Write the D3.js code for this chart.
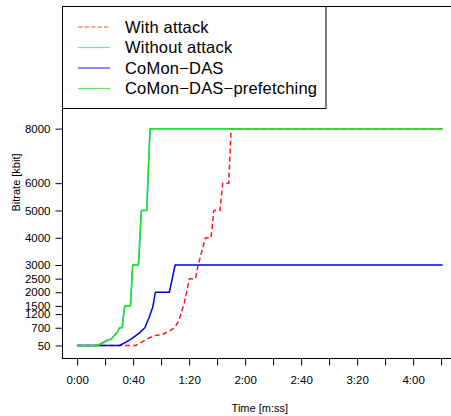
<!DOCTYPE html>
<html>
<head>
<meta charset="utf-8">
<script src="https://cdn.jsdelivr.net/npm/d3@7"></script>
<style>
  html, body { margin: 0; padding: 0; background: #fff; }
  svg { display: block; font-family: "Liberation Sans", Arial, Helvetica, sans-serif; }
</style>
</head>
<body>
<svg id="chart" width="451" height="416"></svg>
<script>
// Bitrate over time (seconds) for each configuration
const seriesNames = ["With attack", "Without attack", "CoMon\u2212DAS", "CoMon\u2212DAS\u2212prefetching"];
const seriesColors = ["#ff1a1a", "#3ccfc6", "#0000f0", "#22e022"];

const withAttackTime = [0, 42, 49, 55, 61, 66, 69.5, 72.7, 76.5, 80.2, 84.5, 86.5, 91.6, 95.7, 97.6, 102.1, 104, 108.3, 110, 261];
const withAttackRate = [50, 50, 260, 410, 450, 580, 700, 960, 1600, 2500, 2500, 3000, 4000, 4000, 5000, 5000, 6000, 6000, 8000, 8000];

const withoutAttackTime = [0, 14.7, 18.3, 21.9, 24.3, 26.6, 29, 30.2, 32.1, 34, 38.1, 39.7, 43.8, 45.9, 49.7, 52.1, 261];
const withoutAttackRate = [50, 50, 150, 250, 280, 420, 550, 700, 700, 1500, 1500, 3000, 3000, 5000, 5000, 8000, 8000];

const comonTime = [0, 30.2, 35, 39.5, 44.5, 48.4, 51.6, 54, 55.9, 65.9, 70, 261];
const comonRate = [50, 50, 170, 316, 510, 700, 1100, 1450, 2000, 2000, 3000, 3000];

const prefetchTime = [0, 14.7, 18.3, 21.9, 24.3, 26.6, 29, 30.2, 32.1, 34, 38.1, 39.7, 43.8, 45.9, 49.7, 52.1, 261];
const prefetchRate = [50, 50, 150, 250, 280, 420, 550, 700, 700, 1500, 1500, 3000, 3000, 5000, 5000, 8000, 8000];

const xLimits = [0, 261];
const yLimits = [50, 12000];
const xTickValues = [0, 20, 40, 60, 80, 100, 120, 140, 160, 180, 200, 220, 240, 260];
const xLabelValues = [0, 40, 80, 120, 160, 200, 240];
const xTickLabels = ["0:00", "0:40", "1:20", "2:00", "2:40", "3:20", "4:00"];
const yTickValues = [50, 700, 1200, 1500, 2000, 2500, 3000, 4000, 5000, 6000, 8000];

const series = [
  { name: seriesNames[0], color: seriesColors[0], dashed: true,  t: withAttackTime,    v: withAttackRate },
  { name: seriesNames[1], color: seriesColors[1], dashed: false, t: withoutAttackTime, v: withoutAttackRate },
  { name: seriesNames[2], color: seriesColors[2], dashed: false, t: comonTime,         v: comonRate },
  { name: seriesNames[3], color: seriesColors[3], dashed: false, t: prefetchTime,      v: prefetchRate }
];

// plot region, with 4% padding on both scales
const plotLeft = 62.5, plotTop = 6.5, plotBottom = 358.5;
const pad = (lim) => { const d = (lim[1] - lim[0]) * 0.04; return [lim[0] - d, lim[1] + d]; };
const xDom = pad(xLimits), yDom = pad(yLimits);
const pxPerSec = 1.4;
const plotRight = plotLeft + (xDom[1] - xDom[0]) * pxPerSec;

const x = d3.scaleLinear().domain(xDom).range([plotLeft, plotRight]);
const y = d3.scaleLinear().domain(yDom).range([plotBottom, plotTop]);

const svg = d3.select("#chart");

// lines
const line = d3.line().x(d => x(d[0])).y(d => y(d[1]));
const drawOrder = [1, 0, 2, 3];
drawOrder.forEach(i => {
  const s = series[i];
  svg.append("path")
    .attr("d", line(s.t.map((t, k) => [t, s.v[k]])))
    .attr("fill", "none")
    .attr("stroke", s.color)
    .attr("stroke-width", 1.5)
    .attr("stroke-dasharray", s.dashed ? "5,3" : null)
    .attr("stroke-linejoin", "round");
});

// x axis
const xAxis = d3.axisBottom(x)
  .tickValues(xTickValues)
  .tickSize(7)
  .tickSizeOuter(0)
  .tickFormat(v => { const k = xLabelValues.indexOf(v); return k >= 0 ? xTickLabels[k] : ""; });
const gx = svg.append("g").attr("transform", `translate(0,${plotBottom})`).call(xAxis);
gx.select(".domain").remove();
gx.selectAll(".tick line").attr("stroke", "#000");
gx.selectAll(".tick text").attr("font-size", 11.5).attr("fill", "#000").attr("dy", 0).attr("y", 25)
  .attr("font-family", "Liberation Sans, Arial, sans-serif");

// y axis
const yAxis = d3.axisLeft(y)
  .tickValues(yTickValues)
  .tickSize(7)
  .tickSizeOuter(0)
  .tickFormat(d3.format("d"));
const gy = svg.append("g").attr("transform", `translate(${plotLeft},0)`).call(yAxis);
gy.select(".domain").remove();
gy.selectAll(".tick line").attr("stroke", "#000");
gy.selectAll(".tick text").attr("font-size", 11.5).attr("fill", "#000").attr("x", -12)
  .attr("font-family", "Liberation Sans, Arial, sans-serif");

// box
svg.append("rect")
  .attr("x", plotLeft).attr("y", plotTop)
  .attr("width", plotRight - plotLeft).attr("height", plotBottom - plotTop)
  .attr("fill", "none").attr("stroke", "#000").attr("stroke-width", 1);

// axis titles
svg.append("text")
  .attr("x", (plotLeft + plotRight) / 2).attr("y", 412)
  .attr("text-anchor", "middle").attr("font-size", 11).text("Time [m:ss]");
svg.append("text")
  .attr("transform", `translate(20,${(plotTop + plotBottom) / 2}) rotate(-90)`)
  .attr("text-anchor", "middle").attr("font-size", 11).text("Bitrate [kbit]");

// legend
const lg = svg.append("g");
lg.append("rect")
  .attr("x", plotLeft).attr("y", plotTop)
  .attr("width", 263.5).attr("height", 102)
  .attr("fill", "#fff").attr("stroke", "#000").attr("stroke-width", 1);
series.forEach((s, i) => {
  const cy = 27 + i * 20.5;
  lg.append("line")
    .attr("x1", 78).attr("x2", 110).attr("y1", cy).attr("y2", cy)
    .attr("stroke", s.color).attr("stroke-width", 1.2).attr("stroke-opacity", 0.75)
    .attr("stroke-dasharray", s.dashed ? "4.5,2" : null);
  lg.append("text")
    .attr("x", 125).attr("y", cy + 5.5)
    .attr("font-size", 16.5).attr("letter-spacing", 0.2).attr("fill", "#000").text(s.name);
});
</script>
</body>
</html>
